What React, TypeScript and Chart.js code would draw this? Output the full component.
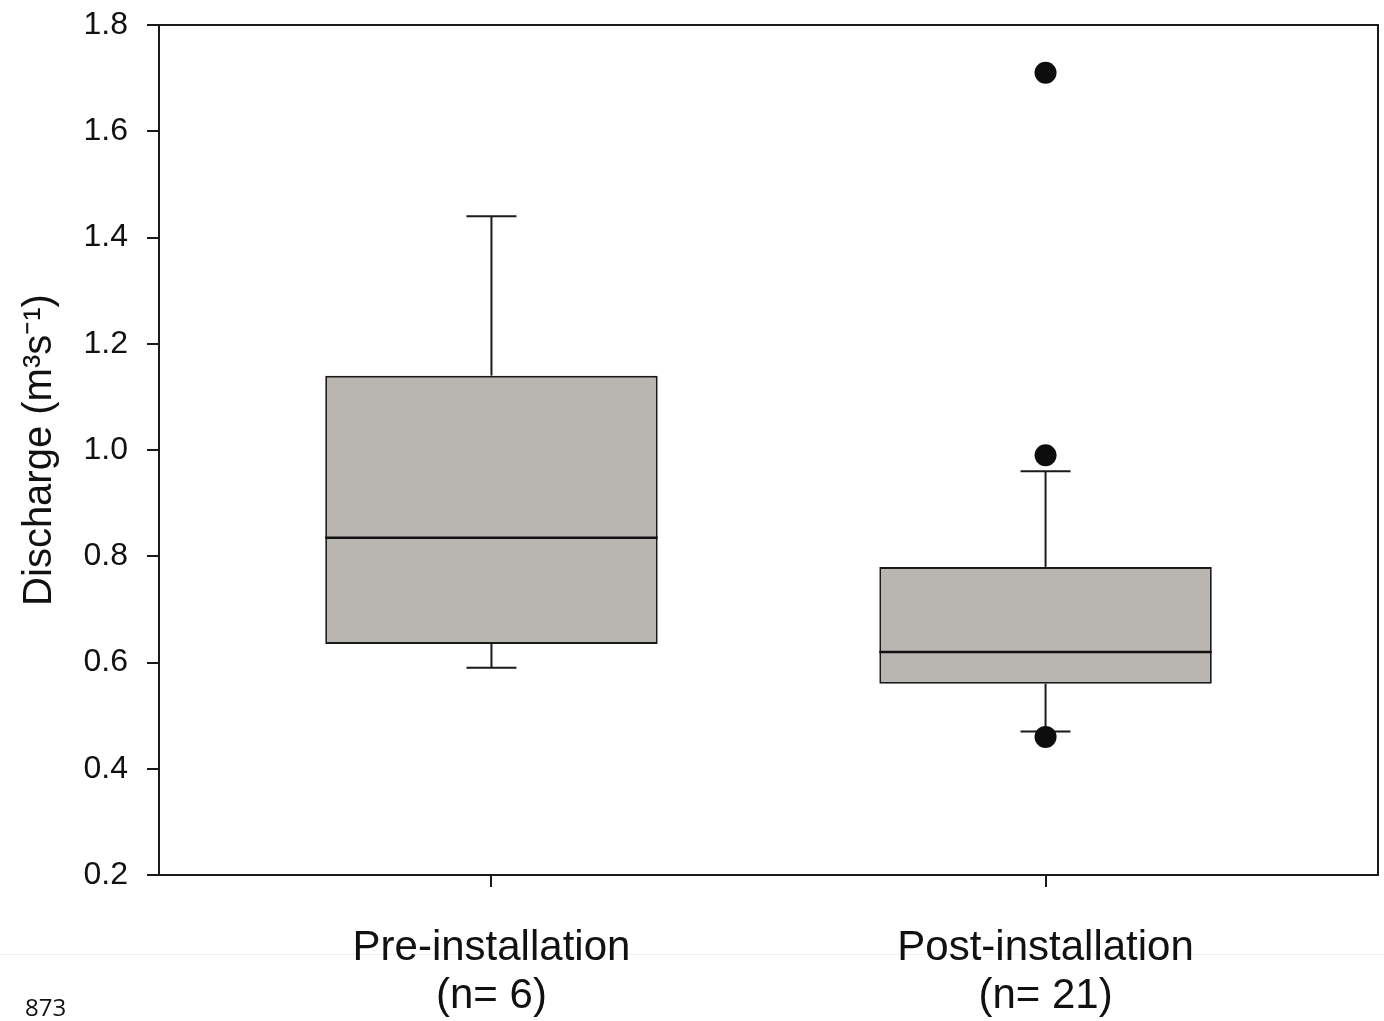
import React, { useEffect, useRef } from "react";
import { Chart, registerables } from "chart.js";

Chart.register(...registerables);

// ---- Data ----
const categories = ["Pre-installation", "Post-installation"];
const sampleSizes = ["(n= 6)", "(n= 21)"];
const positions = [1, 2];
const whiskerLow = [0.59, 0.47];
const q1 = [0.635, 0.56];
const median = [0.835, 0.62];
const q3 = [1.14, 0.78];
const whiskerHigh = [1.44, 0.96];
const outliers: number[][] = [[], [1.71, 0.99, 0.46]];
const yMin = 0.2;
const yMax = 1.8;
const yStep = 0.2;

const INK = "#1a1a1a";
const BOX_FILL = "#b9b5b0";
const CAP_HALF = 25;

const boxPlotPlugin = {
  id: "boxPlotExtras",
  beforeDatasetsDraw(chart: any) {
    const { ctx, scales } = chart;
    const xs = scales.x;
    const ys = scales.y;
    ctx.save();
    ctx.strokeStyle = INK;
    ctx.lineWidth = 2;
    positions.forEach((p, i) => {
      const x = xs.getPixelForValue(p);
      const segs: [number, number][] = [
        [q3[i], whiskerHigh[i]],
        [q1[i], whiskerLow[i]],
      ];
      segs.forEach(([a, b]) => {
        ctx.beginPath();
        ctx.moveTo(x, ys.getPixelForValue(a));
        ctx.lineTo(x, ys.getPixelForValue(b));
        ctx.stroke();
        ctx.beginPath();
        ctx.moveTo(x - CAP_HALF, ys.getPixelForValue(b));
        ctx.lineTo(x + CAP_HALF, ys.getPixelForValue(b));
        ctx.stroke();
      });
    });
    ctx.restore();
  },
  afterDatasetsDraw(chart: any) {
    const { ctx, scales } = chart;
    const ys = scales.y;
    const meta = chart.getDatasetMeta(0);
    ctx.save();
    ctx.strokeStyle = "#111";
    ctx.lineWidth = 2.5;
    meta.data.forEach((bar: any, i: number) => {
      const y = ys.getPixelForValue(median[i]);
      ctx.beginPath();
      ctx.moveTo(bar.x - bar.width / 2, y);
      ctx.lineTo(bar.x + bar.width / 2, y);
      ctx.stroke();
    });
    ctx.restore();
  },
  afterDraw(chart: any) {
    const { ctx, chartArea } = chart;
    ctx.save();
    ctx.strokeStyle = INK;
    ctx.lineWidth = 2;
    ctx.beginPath();
    ctx.moveTo(chartArea.left, chartArea.top);
    ctx.lineTo(chartArea.right, chartArea.top);
    ctx.lineTo(chartArea.right, chartArea.bottom);
    ctx.stroke();
    ctx.restore();
  },
};

export default function App() {
  const canvasRef = useRef<HTMLCanvasElement | null>(null);

  useEffect(() => {
    if (!canvasRef.current) return;
    const outlierPoints: { x: number; y: number }[] = [];
    outliers.forEach((arr, i) => arr.forEach((v) => outlierPoints.push({ x: positions[i], y: v })));

    const chart = new Chart(canvasRef.current, {
      data: {
        datasets: [
          {
            type: "bar",
            data: positions.map((p, i) => ({ x: p, y: [q1[i], q3[i]] })) as any,
            backgroundColor: BOX_FILL,
            borderColor: INK,
            borderWidth: 2,
            borderSkipped: false,
            barPercentage: 1,
            categoryPercentage: 0.6,
          } as any,
          {
            type: "scatter",
            data: outlierPoints,
            backgroundColor: "#0d0d0d",
            borderWidth: 0,
            pointRadius: 11,
            pointHoverRadius: 11,
          } as any,
        ],
      },
      options: {
        responsive: false,
        animation: false,
        events: [],
        layout: { autoPadding: false, padding: { left: 0, top: 25, right: 6, bottom: 0 } },
        plugins: {
          legend: { display: false },
          tooltip: { enabled: false },
        },
        scales: {
          x: {
            type: "linear",
            min: 0.4,
            max: 2.6,
            offset: false,
            afterBuildTicks(scale: any) {
              scale.ticks = positions.map((p) => ({ value: p }));
            },
            afterFit(scale: any) {
              scale.height = 146;
              scale.paddingLeft = 0;
              scale.paddingRight = 0;
            },
            ticks: {
              autoSkip: false,
              maxRotation: 0,
              padding: 37,
              color: "#111",
              font: { family: "'Liberation Sans', Arial, sans-serif", size: 42, lineHeight: 1.15 },
              callback(value: any) {
                const i = positions.indexOf(Number(value));
                return i >= 0 ? [categories[i], sampleSizes[i]] : "";
              },
            },
            grid: {
              offset: false,
              drawOnChartArea: false,
              drawTicks: true,
              tickLength: 12,
              color: INK,
              lineWidth: 2,
            },
            border: { display: true, color: INK, width: 2 },
          },
          y: {
            type: "linear",
            min: yMin,
            max: yMax,
            afterFit(scale: any) {
              scale.width = 159;
              scale.paddingTop = 0;
              scale.paddingBottom = 0;
            },
            ticks: {
              stepSize: yStep,
              padding: 19,
              color: "#111",
              font: { family: "'Liberation Sans', Arial, sans-serif", size: 32 },
              callback(value: any) {
                return Number(value).toFixed(1);
              },
            },
            grid: {
              drawOnChartArea: false,
              drawTicks: true,
              tickLength: 12,
              color: INK,
              lineWidth: 2,
            },
            border: { display: true, color: INK, width: 2 },
            title: {
              display: true,
              text: "Discharge (m³s⁻¹)",
              color: "#111",
              font: { family: "'Liberation Sans', Arial, sans-serif", size: 40 },
              padding: { top: 16, bottom: 0 },
            },
          },
        },
      },
      plugins: [boxPlotPlugin],
    });
    return () => chart.destroy();
  }, []);

  return (
    <div style={{ position: "fixed", left: 0, top: 0, width: 1384, height: 1021, background: "#fff", overflow: "hidden" }}>
      <div style={{ position: "absolute", left: 0, top: 954, width: 1384, height: 1, background: "#eef0f3" }} />
      <canvas ref={canvasRef} width={1384} height={1021} style={{ position: "absolute", left: 0, top: 0 }} />
      <div
        style={{
          position: "absolute",
          left: 25,
          top: 993,
          fontFamily: "'Open Sans', sans-serif",
          fontSize: 24,
          lineHeight: "28px",
          color: "#111",
        }}
      >
        873
      </div>
    </div>
  );
}
